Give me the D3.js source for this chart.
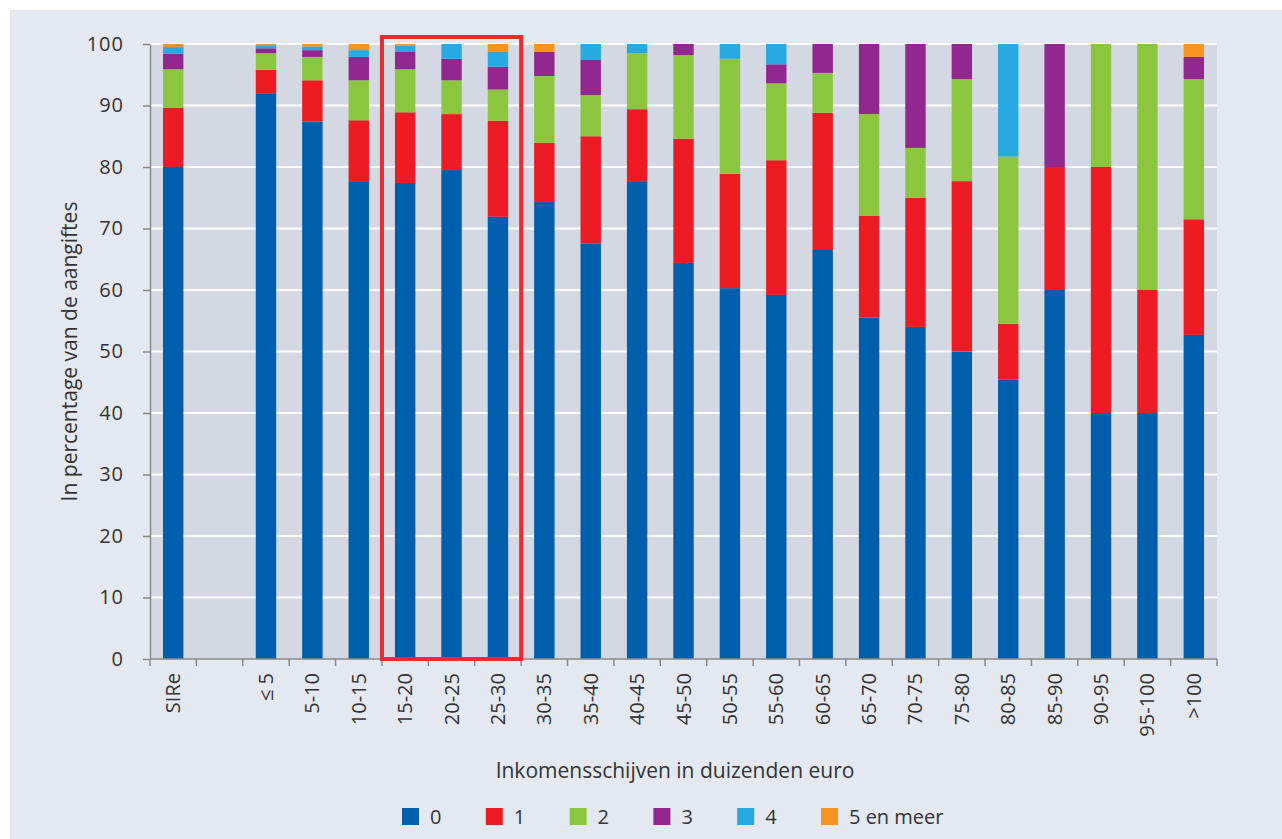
<!DOCTYPE html>
<html>
<head>
<meta charset="utf-8">
<script src="https://cdn.jsdelivr.net/npm/d3@7"></script>
<style>
  body { margin: 0; background: #fff; }
  svg { display: block; font-family: "Open Sans", sans-serif; }
</style>
</head>
<body>
<svg id="chart" width="1282" height="839"></svg>
<script>
// categories (second slot is an empty spacer)
var categories = ["SIRe", "", "\u2264 5", "5-10", "10-15", "15-20", "20-25", "25-30", "30-35", "35-40",
  "40-45", "45-50", "50-55", "55-60", "60-65", "65-70", "70-75", "75-80", "80-85", "85-90",
  "90-95", "95-100", ">100"];
var seriesNames = ["0", "1", "2", "3", "4", "5 en meer"];
var seriesColors = ["#005fad", "#ed1c24", "#8cc63f", "#92278f", "#27aae1", "#f7941d"];
var yTicks = [0, 10, 20, 30, 40, 50, 60, 70, 80, 90, 100];
var highlight = ["15-20", "25-30"];

// share per category, one array per series
var s0 = [80, null, 92, 87.4, 77.7, 77.4, 79.5, 71.9, 74.3, 67.6, 77.7, 64.4, 60.3, 59.2, 66.5, 55.5, 54, 50, 45.4, 60, 40, 40, 52.7];
var s1 = [9.6, null, 3.8, 6.7, 9.9, 11.5, 9.1, 15.6, 9.6, 17.4, 11.7, 20.2, 18.6, 21.9, 22.3, 16.6, 21, 27.7, 9.1, 20, 40, 20, 18.8];
var s2 = [6.3, null, 2.7, 3.8, 6.5, 7.0, 5.5, 5.1, 10.9, 6.7, 9.1, 13.6, 18.7, 12.5, 6.5, 16.5, 8.1, 16.6, 27.2, 0, 20, 40, 22.8];
var s3 = [2.5, null, 0.8, 1.1, 3.8, 2.8, 3.5, 3.7, 3.9, 5.7, 0, 1.8, 0, 3.1, 4.7, 11.4, 16.9, 5.7, 0, 20, 0, 0, 3.6];
var s4 = [1.1, null, 0.5, 0.6, 1.1, 1.0, 2.4, 2.4, 0, 2.6, 1.5, 0, 2.4, 3.3, 0, 0, 0, 0, 18.3, 0, 0, 0, 0];
var s5 = [0.5, null, 0.2, 0.4, 1.0, 0.3, 0, 1.3, 1.3, 0, 0, 0, 0, 0, 0, 0, 0, 0, 0, 0, 0, 0, 2.1];
var series = [s0, s1, s2, s3, s4, s5];

var svg = d3.select("#chart");

svg.append("rect")
  .attr("x", 10).attr("y", 10)
  .attr("width", 1272).attr("height", 829)
  .attr("fill", "#e4e8f0");

var plotLeft = 150, plotRight = 1217, plotTop = 44, plotBottom = 659;

var x = d3.scaleBand()
  .domain(categories)
  .range([plotLeft, plotRight])
  .paddingInner(0.56)
  .paddingOuter(0.28);

var y = d3.scaleLinear()
  .domain([0, 100])
  .range([plotBottom, plotTop]);

// plot background
svg.append("rect")
  .attr("x", plotLeft).attr("y", plotTop)
  .attr("width", plotRight - plotLeft).attr("height", plotBottom - plotTop)
  .attr("fill", "#d3d8e2");

// gridlines
svg.append("g")
  .selectAll("line")
  .data(yTicks.filter(function (d) { return d > 0; }))
  .join("line")
  .attr("x1", plotLeft).attr("x2", plotRight)
  .attr("y1", function (d) { return y(d); })
  .attr("y2", function (d) { return y(d); })
  .attr("stroke", "#ffffff")
  .attr("stroke-width", 2);

// stacked bars
var rows = categories.map(function (c, i) {
  var r = { cat: c };
  seriesNames.forEach(function (s, k) { r[s] = series[k][i] || 0; });
  return r;
}).filter(function (r, i) { return s0[i] !== null; });

var stacked = d3.stack().keys(seriesNames)(rows);

svg.append("g")
  .selectAll("g")
  .data(stacked)
  .join("g")
  .attr("fill", function (d, i) { return seriesColors[i]; })
  .selectAll("rect")
  .data(function (d) { return d; })
  .join("rect")
  .attr("x", function (d) { return x(d.data.cat); })
  .attr("width", x.bandwidth())
  .attr("y", function (d) { return y(d[1]); })
  .attr("height", function (d) { return y(d[0]) - y(d[1]); });

// axes
var axisColor = "#8a8a8a";
var textColor = "#333333";

var yAxis = svg.append("g")
  .attr("transform", "translate(" + plotLeft + ",0)")
  .call(d3.axisLeft(y).tickValues(yTicks).tickSize(7).tickPadding(19).tickSizeOuter(0));
yAxis.select(".domain").attr("stroke", axisColor).attr("stroke-width", 1.5);
yAxis.selectAll(".tick line").attr("stroke", axisColor).attr("stroke-width", 1.5);
yAxis.selectAll("text")
  .attr("fill", textColor)
  .style("font-size", "20px")
  .style("letter-spacing", "1px")
  .style("font-family", "'Open Sans', sans-serif");

var xAxisG = svg.append("g").attr("transform", "translate(0," + plotBottom + ")");
xAxisG.append("line")
  .attr("x1", plotLeft).attr("x2", plotRight)
  .attr("stroke", axisColor).attr("stroke-width", 1.5);
var boundaries = categories.map(function (c) { return x(c) - x.step() * x.paddingInner() / 2; });
boundaries.push(plotRight);
xAxisG.selectAll("line.tk")
  .data(boundaries)
  .join("line")
  .attr("class", "tk")
  .attr("x1", function (d) { return d; }).attr("x2", function (d) { return d; })
  .attr("y1", 0).attr("y2", 7)
  .attr("stroke", axisColor).attr("stroke-width", 1.5);
xAxisG.selectAll("text")
  .data(categories)
  .join("text")
  .attr("transform", function (d) {
    return "translate(" + (x(d) + x.bandwidth() / 2 + 7) + ",14) rotate(-90)";
  })
  .attr("text-anchor", "end")
  .attr("fill", textColor)
  .style("font-size", "20px")
  .text(function (d) { return d; });

// axis titles
svg.append("text")
  .attr("transform", "translate(77," + ((plotTop + plotBottom) / 2) + ") rotate(-90)")
  .attr("text-anchor", "middle")
  .attr("fill", textColor)
  .style("font-size", "21px")
  .text("In percentage van de aangiftes");

svg.append("text")
  .attr("x", 675).attr("y", 778)
  .attr("text-anchor", "middle")
  .attr("fill", textColor)
  .style("font-size", "21px")
  .text("Inkomensschijven in duizenden euro");

// highlight box
var hx0 = x(highlight[0]) - x.step() * x.paddingInner() / 2;
var hx1 = x(highlight[1]) + x.bandwidth() + x.step() * x.paddingInner() / 2;
svg.append("rect")
  .attr("x", hx0).attr("y", plotTop - 7)
  .attr("width", hx1 - hx0).attr("height", plotBottom - plotTop + 7)
  .attr("fill", "none")
  .attr("stroke", "#ee2a2e")
  .attr("stroke-width", 4);

// legend
var legend = svg.append("g").attr("transform", "translate(402,808)");
var item = legend.selectAll("g")
  .data(seriesNames)
  .join("g")
  .attr("transform", function (d, i) { return "translate(" + (i * 83.8) + ",0)"; });
item.append("rect")
  .attr("width", 17).attr("height", 17)
  .attr("fill", function (d, i) { return seriesColors[i]; });
item.append("text")
  .attr("x", 28).attr("y", 16)
  .attr("fill", textColor)
  .style("font-size", "20px")
  .text(function (d) { return d; });
</script>
</body>
</html>
